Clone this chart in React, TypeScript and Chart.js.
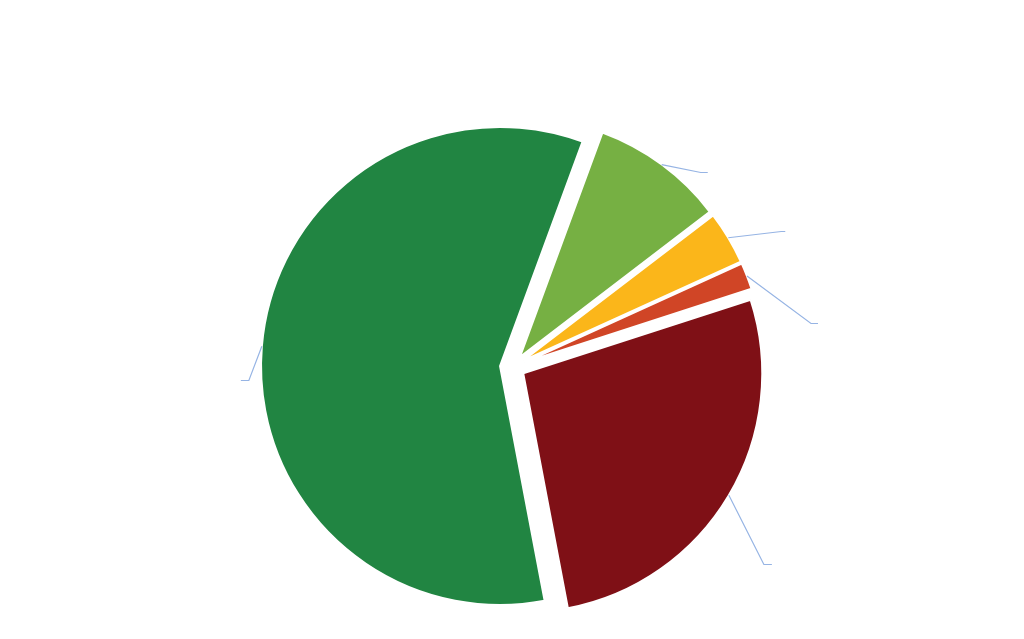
import React, { useEffect, useRef } from "react";
import { Chart, registerables } from "chart.js";

Chart.register(...registerables);

// Data (clockwise, starting at ~20° past twelve o'clock)
const LABELS = ["Slice 1", "Slice 2", "Slice 3", "Slice 4", "Slice 5"];
const VALUES = [9.0, 3.6, 1.8, 27.0, 58.6];
const COLORS = ["#76B043", "#FBB61A", "#D04526", "#7F1016", "#218542"];

// Styling
const START_ANGLE = 20.2;
const EXPLODE = [12.5, 12.5, 12.5, 12.5, 12.5];
// leader line elbow offsets from arc edge (dx, dy), and tail direction
const LEADER_DX = [39, 53, 64, 35, -13];
const LEADER_DY = [7, -7, 47, 69, 34];
const LEADER_TAIL = [7, 4, 7, 8, -8];
const LEADER_COLOR = "rgb(150,180,228)";

const explodePlugin = {
  id: "explodeAndLeaders",
  beforeDatasetsDraw(chart: any) {
    const meta = chart.getDatasetMeta(0);
    const { left, right, top, bottom } = chart.chartArea;
    const cx = (left + right) / 2;
    const cy = (top + bottom) / 2;
    meta.data.forEach((arc: any, i: number) => {
      const mid = (arc.startAngle + arc.endAngle) / 2;
      arc.x = cx + EXPLODE[i] * Math.cos(mid);
      arc.y = cy + EXPLODE[i] * Math.sin(mid);
    });
  },
  afterDatasetsDraw(chart: any) {
    const ctx = chart.ctx;
    const meta = chart.getDatasetMeta(0);
    ctx.save();
    ctx.strokeStyle = LEADER_COLOR;
    ctx.lineWidth = 1.2;
    meta.data.forEach((arc: any, i: number) => {
      const mid = (arc.startAngle + arc.endAngle) / 2;
      const sx = arc.x + arc.outerRadius * Math.cos(mid);
      const sy = arc.y + arc.outerRadius * Math.sin(mid);
      const ex = sx + LEADER_DX[i];
      const ey = Math.round(sy + LEADER_DY[i]) + 0.5;
      ctx.beginPath();
      ctx.moveTo(sx, sy);
      ctx.lineTo(ex, ey);
      ctx.lineTo(ex + LEADER_TAIL[i], ey);
      ctx.stroke();
    });
    ctx.restore();
  },
};

export default function App() {
  const ref = useRef<HTMLCanvasElement | null>(null);
  useEffect(() => {
    if (!ref.current) return;
    const chart = new Chart(ref.current, {
      type: "pie",
      data: {
        labels: LABELS,
        datasets: [
          {
            data: VALUES,
            backgroundColor: COLORS,
            borderColor: "#FFFFFF",
            borderWidth: 2,
            hoverOffset: 0,
          },
        ],
      },
      options: {
        responsive: false,
        animation: false,
        rotation: START_ANGLE,
        layout: { padding: { left: 100, right: 99, top: 127, bottom: 32 } },
        plugins: {
          legend: { display: false },
          tooltip: { enabled: false },
          title: { display: false },
        },
        events: [],
      },
      plugins: [explodePlugin],
    });
    return () => chart.destroy();
  }, []);
  return (
    <div style={{ position: "absolute", left: 0, top: 0, width: 1024, height: 639, background: "#FFFFFF" }}>
      <canvas ref={ref} width={1024} height={639} style={{ display: "block" }} />
    </div>
  );
}
